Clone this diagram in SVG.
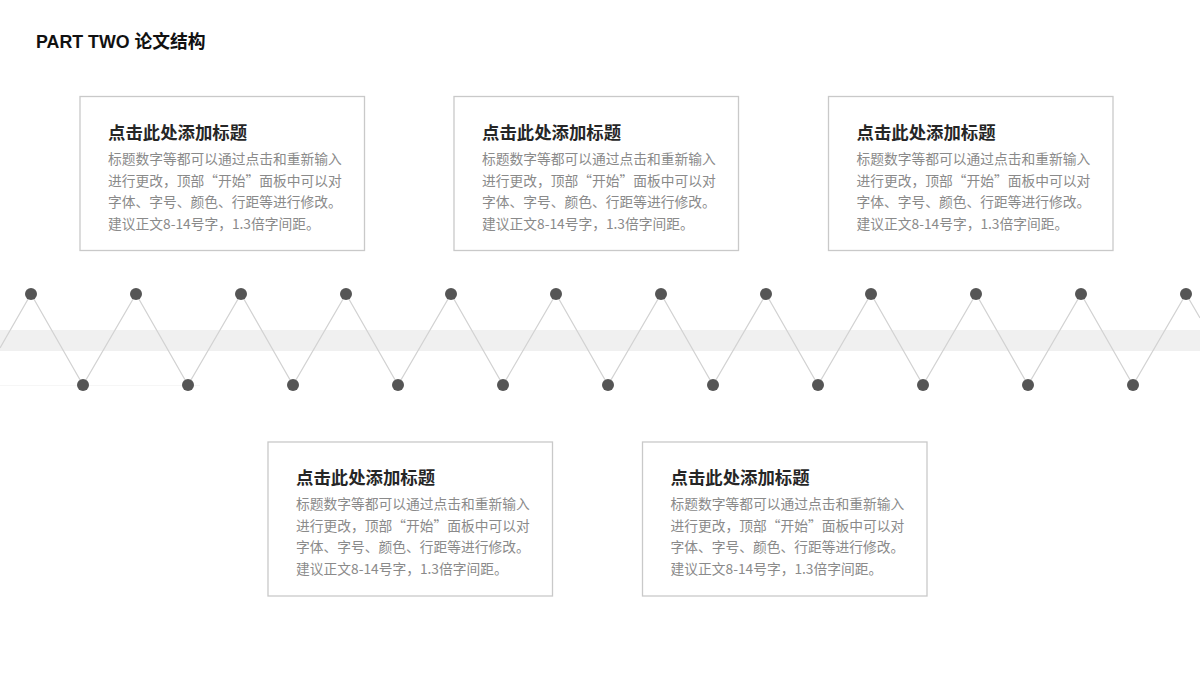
<svg xmlns="http://www.w3.org/2000/svg" width="1200" height="680" viewBox="0 0 1200 680">
<style>
.box{fill:#fff;stroke:#c9c9c9;stroke-width:1.3}
.t{font-family:"Noto Sans CJK SC","Liberation Sans",sans-serif;font-size:17.4px;font-weight:bold;fill:#262626}
.b{font-family:"Noto Sans CJK SC","Liberation Sans",sans-serif;font-size:13.75px;fill:#8a8a8a}
.z{fill:none;stroke:#d2d2d2;stroke-width:1.2}
.d{fill:#555555}
</style>
<rect width="1200" height="680" fill="#ffffff"/>
<text x="36" y="47.5" style="font-family:'Liberation Sans','Noto Sans CJK SC',sans-serif;font-size:17.8px;font-weight:bold;fill:#111">PART TWO 论文结构</text>
<rect x="0" y="330" width="1200" height="21" fill="#f0f0f0"/>
<line x1="0" y1="385.5" x2="200" y2="385.5" stroke="#f6f6f6" stroke-width="1"/>
<g id="connectors">
<polyline class="z" points="0,348 31,294 83,385 136,294 188,385 241,294 293,385 346,294 398,385 451,294 503,385 556,294 608,385 661,294 713,385 766,294 818,385 871,294 923,385 976,294 1028,385 1081,294 1133,385 1186,294 1200,318"/>
</g>
<g id="dots">
<circle class="d" cx="31" cy="294" r="6"/><circle class="d" cx="136" cy="294" r="6"/><circle class="d" cx="241" cy="294" r="6"/><circle class="d" cx="346" cy="294" r="6"/><circle class="d" cx="451" cy="294" r="6"/><circle class="d" cx="556" cy="294" r="6"/><circle class="d" cx="661" cy="294" r="6"/><circle class="d" cx="766" cy="294" r="6"/><circle class="d" cx="871" cy="294" r="6"/><circle class="d" cx="976" cy="294" r="6"/><circle class="d" cx="1081" cy="294" r="6"/><circle class="d" cx="1186" cy="294" r="6"/>
<circle class="d" cx="83" cy="385" r="6"/><circle class="d" cx="188" cy="385" r="6"/><circle class="d" cx="293" cy="385" r="6"/><circle class="d" cx="398" cy="385" r="6"/><circle class="d" cx="503" cy="385" r="6"/><circle class="d" cx="608" cy="385" r="6"/><circle class="d" cx="713" cy="385" r="6"/><circle class="d" cx="818" cy="385" r="6"/><circle class="d" cx="923" cy="385" r="6"/><circle class="d" cx="1028" cy="385" r="6"/><circle class="d" cx="1133" cy="385" r="6"/>
</g>
<defs>
<g id="card">
<rect class="box" x="0" y="0" width="284.5" height="154"/>
<text class="t" x="28" y="42">点击此处添加标题</text>
<text class="b" x="28" y="67">标题数字等都可以通过点击和重新输入</text>
<text class="b" x="28" y="89">进行更改，顶部“开始”面板中可以对</text>
<text class="b" x="28" y="110">字体、字号、颜色、行距等进行修改。</text>
<text class="b" x="28" y="132">建议正文8-14号字，1.3倍字间距。</text>
</g>
</defs>
<g id="node1"><use href="#card" x="80" y="96.5"/></g>
<g id="node2"><use href="#card" x="454" y="96.5"/></g>
<g id="node3"><use href="#card" x="828.5" y="96.5"/></g>
<g id="node4"><use href="#card" x="268" y="442"/></g>
<g id="node5"><use href="#card" x="642.5" y="442"/></g>
</svg>
